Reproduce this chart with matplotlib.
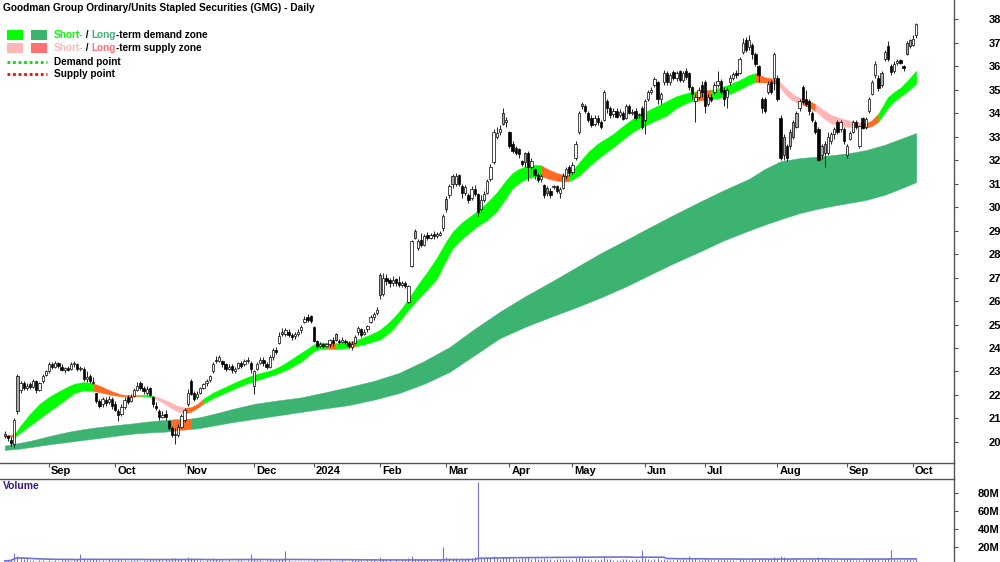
import matplotlib
matplotlib.use("Agg")
import matplotlib.pyplot as plt
import matplotlib.transforms as mtransforms
from matplotlib.lines import Line2D
from matplotlib.patches import Rectangle
import numpy as np
import pandas as pd

FONT = ["Liberation Sans Narrow", "Liberation Sans", "DejaVu Sans"]
plt.rcParams["font.family"] = FONT

# ---- data -------------------------------------------------------------
holidays = ["2023-12-25", "2023-12-26", "2024-01-01", "2024-01-26",
            "2024-03-29", "2024-04-01", "2024-04-25", "2024-06-10"]

opens = [
    20.35, 20.25, 20.1, 19.9, 22.8, 22.2, 22.5, 22.3, 22.45, 22.35,
    22.6, 22.2, 22.6, 22.85, 23.0, 23.3, 23.2, 23.35, 23.2, 23.05,
    23.15, 23.1, 23.3, 23.3, 23.1, 23.1, 22.7, 22.8, 22.5, 22.1,
    21.75, 21.6, 21.8, 21.7, 21.85, 21.6, 21.3, 21.2, 21.5, 21.9,
    21.75, 21.95, 22.2, 22.5, 22.3, 22.1, 22.3, 21.9, 21.55, 21.3,
    21.05, 21.2, 20.9, 20.6, 20.35, 20.3, 20.65, 20.95, 21.6, 22.6,
    22.1, 21.9, 22.1, 22.3, 22.5, 22.65, 23.0, 23.5, 23.45, 23.45,
    23.3, 23.1, 23.25, 23.0, 23.15, 23.35, 23.3, 23.45, 23.35, 22.4,
    23.1, 23.35, 23.5, 23.3, 23.2, 23.6, 23.9, 24.2, 24.7, 24.6,
    24.7, 24.55, 24.5, 24.6, 24.75, 25.1, 25.3, 25.35, 24.9, 24.3,
    24.1, 24.15, 24.1, 24.15, 24.35, 24.6, 24.3, 24.25, 24.3, 24.2,
    24.05, 24.2, 24.7, 24.8, 24.6, 24.8, 25.1, 25.3, 25.5, 27.1,
    26.3, 27.0, 26.9, 26.75, 26.95, 26.8, 26.7, 26.75, 25.95, 27.5,
    29.0, 28.25, 28.6, 28.4, 28.8, 28.7, 28.85, 28.75, 28.8, 29.1,
    30.35, 30.5, 31.3, 31.0, 31.35, 30.9, 30.6, 30.5, 30.4, 30.75,
    30.55, 29.9, 30.3, 30.6, 31.2, 31.9, 33.0, 33.2, 34.0, 33.6,
    33.2, 32.7, 32.5, 32.45, 31.95, 32.3, 32.3, 31.7, 31.6, 31.35,
    31.2, 30.95, 30.8, 30.7, 30.85, 30.9, 30.6, 30.8, 31.3, 31.7,
    31.5, 32.1, 33.2, 34.4, 34.3, 34.0, 33.8, 33.55, 33.8, 33.6,
    33.7, 34.5, 34.2, 33.95, 34.1, 33.9, 34.0, 33.8, 34.3, 34.0,
    34.1, 33.9, 34.2, 33.7, 34.6, 34.9, 35.2, 35.3, 34.6, 35.3,
    35.7, 35.3, 35.75, 35.5, 35.8, 35.4, 35.8, 35.7, 35.1, 34.5,
    34.7, 35.2, 35.3, 34.4, 34.7, 34.9, 35.2, 35.35, 35.0, 34.7,
    35.3, 35.5, 35.7, 35.7, 36.6, 37.1, 36.8, 36.9, 36.5, 36.0,
    34.6, 34.6, 34.9, 35.3, 35.5, 35.5, 33.8, 33.0, 32.6, 33.2,
    33.6, 34.0, 34.2, 35.1, 34.6, 34.5, 34.0, 33.6, 33.3, 32.6,
    32.7, 32.3, 32.8, 33.1, 33.6, 33.3, 33.3, 32.2, 32.9, 33.2,
    33.6, 32.6, 33.8, 33.4, 34.1, 34.8, 35.6, 35.5, 35.7, 36.3,
    36.85, 36.0, 35.8, 36.15, 36.25, 36.0, 37.0, 37.1, 36.9, 37.3,
]
highs = [
    20.45, 20.3, 20.2, 21.0, 22.9, 22.6, 22.6, 22.5, 22.55, 22.7,
    22.65, 22.55, 22.9, 23.05, 23.4, 23.4, 23.45, 23.4, 23.3, 23.2,
    23.25, 23.4, 23.45, 23.35, 23.25, 23.2, 23.0, 22.9, 22.75, 22.1,
    21.85, 21.9, 21.9, 21.95, 21.9, 21.75, 21.4, 21.6, 21.9, 22.0,
    22.05, 22.3, 22.55, 22.6, 22.4, 22.4, 22.35, 21.95, 21.7, 21.4,
    21.3, 21.35, 20.95, 20.7, 20.6, 20.75, 21.2, 21.45, 22.25, 22.7,
    22.15, 22.15, 22.35, 22.5, 22.7, 22.85, 23.4, 23.65, 23.7, 23.5,
    23.35, 23.3, 23.3, 23.2, 23.4, 23.45, 23.55, 23.6, 23.45, 23.05,
    23.4, 23.6, 23.6, 23.4, 23.7, 24.0, 24.05, 24.7, 24.85, 24.85,
    24.8, 24.65, 24.7, 24.8, 25.0, 25.35, 25.45, 25.4, 24.95, 24.35,
    24.25, 24.2, 24.2, 24.4, 24.45, 24.65, 24.4, 24.45, 24.4, 24.3,
    24.3, 24.55, 24.95, 24.85, 24.8, 25.0, 25.4, 25.55, 25.75, 27.2,
    27.2, 27.15, 27.0, 27.05, 27.0, 27.05, 26.85, 26.85, 26.7, 28.6,
    29.05, 28.65, 28.9, 28.85, 28.95, 28.9, 29.0, 28.95, 29.0, 29.7,
    30.45, 31.0, 31.4, 31.45, 31.4, 31.0, 30.95, 30.6, 30.9, 30.95,
    30.6, 30.5, 30.7, 31.2, 31.85, 33.3, 33.4, 33.5, 34.2, 33.85,
    33.25, 32.8, 32.6, 32.5, 32.0, 32.35, 32.4, 32.1, 31.65, 31.45,
    31.4, 31.0, 30.9, 30.8, 30.95, 30.95, 30.85, 31.45, 31.7, 31.8,
    31.9, 32.8, 34.1, 34.45, 34.4, 34.1, 33.9, 33.9, 33.9, 33.7,
    35.0, 34.6, 34.3, 34.2, 34.2, 34.15, 34.1, 34.4, 34.4, 34.15,
    34.2, 34.0, 34.3, 34.6, 35.0, 35.1, 35.55, 35.35, 34.9, 35.85,
    35.8, 35.7, 35.85, 35.8, 35.85, 35.8, 35.9, 35.75, 35.15, 34.8,
    35.1, 35.35, 35.4, 34.8, 34.8, 35.3, 35.8, 35.45, 35.1, 35.1,
    35.6, 35.75, 35.85, 36.4, 37.2, 37.25, 37.3, 37.0, 36.6, 36.05,
    34.7, 34.7, 35.35, 35.4, 36.6, 35.6, 33.9, 33.1, 32.7, 33.3,
    33.7, 34.1, 34.6, 35.2, 35.0, 34.6, 34.1, 33.7, 33.4, 32.7,
    32.8, 33.2, 33.2, 33.4, 33.7, 33.7, 33.4, 32.7, 33.25, 33.7,
    33.7, 33.5, 33.85, 33.85, 34.7, 35.4, 36.2, 35.6, 35.8, 36.7,
    37.05, 36.1, 36.2, 36.3, 36.3, 36.05, 37.05, 37.15, 37.3, 37.85,
]
lows = [
    20.15, 20.05, 19.85, 19.8, 21.2, 22.1, 22.2, 22.2, 22.25, 22.3,
    22.1, 22.15, 22.5, 22.8, 22.95, 23.1, 23.15, 23.15, 23.0, 22.95,
    23.0, 23.05, 23.2, 23.0, 23.0, 22.6, 22.55, 22.5, 22.45, 21.65,
    21.45, 21.5, 21.55, 21.6, 21.4, 21.3, 20.9, 21.1, 21.4, 21.6,
    21.7, 21.9, 22.15, 22.2, 22.05, 22.0, 21.95, 21.5, 21.35, 20.95,
    21.0, 20.95, 20.5, 20.2, 19.9, 20.2, 20.6, 20.85, 21.55, 22.0,
    21.75, 21.85, 22.05, 22.25, 22.4, 22.55, 22.95, 23.35, 23.4, 23.2,
    23.0, 23.05, 22.95, 22.95, 23.1, 23.15, 23.25, 23.35, 22.95, 22.05,
    23.05, 23.3, 23.25, 23.1, 23.15, 23.5, 23.75, 24.15, 24.5, 24.5,
    24.45, 24.35, 24.4, 24.5, 24.65, 25.05, 25.1, 25.05, 24.25, 24.0,
    24.05, 24.0, 24.05, 24.05, 24.1, 24.3, 24.15, 24.2, 24.15, 24.0,
    23.9, 24.15, 24.55, 24.45, 24.55, 24.7, 25.05, 25.2, 25.4, 26.1,
    26.2, 26.7, 26.6, 26.65, 26.65, 26.6, 26.6, 26.55, 25.9, 27.45,
    28.65, 28.15, 28.3, 28.35, 28.6, 28.65, 28.65, 28.7, 28.75, 29.0,
    29.8, 30.4, 30.8, 30.9, 30.9, 30.4, 30.5, 30.15, 30.3, 30.45,
    29.6, 29.85, 30.2, 30.55, 31.1, 31.85, 32.9, 33.05, 33.5, 33.4,
    32.5, 32.3, 32.2, 32.1, 31.75, 31.7, 31.1, 31.6, 31.2, 31.05,
    31.05, 30.4, 30.45, 30.4, 30.75, 30.6, 30.4, 30.75, 31.2, 31.3,
    31.4, 32.0, 33.1, 34.15, 34.0, 33.6, 33.4, 33.45, 33.5, 33.3,
    33.65, 34.0, 33.8, 33.85, 33.8, 33.85, 33.7, 33.75, 33.95, 33.9,
    33.7, 33.8, 33.3, 33.1, 34.5, 34.8, 35.1, 34.4, 34.4, 35.2,
    35.2, 35.2, 35.4, 35.35, 35.3, 35.3, 35.45, 35.0, 34.6, 33.6,
    34.6, 34.7, 34.0, 34.3, 34.45, 34.8, 35.1, 34.8, 34.3, 34.2,
    35.2, 35.4, 35.5, 35.65, 36.5, 36.6, 36.7, 36.3, 36.0, 35.3,
    34.0, 34.0, 34.8, 34.8, 35.0, 34.5, 32.0, 32.0, 31.95, 32.45,
    32.9, 33.35, 34.1, 34.4, 34.3, 33.9, 33.6, 33.1, 31.95, 32.05,
    31.7, 32.2, 32.7, 32.9, 33.1, 33.2, 32.7, 32.1, 32.85, 33.15,
    33.3, 32.5, 33.3, 33.3, 34.0, 34.75, 35.5, 34.95, 35.1, 36.2,
    36.2, 35.6, 35.7, 36.05, 36.1, 35.8, 36.45, 36.75, 36.85, 37.2,
]
closes = [
    20.25, 20.15, 19.95, 20.95, 21.3, 22.5, 22.3, 22.4, 22.35, 22.6,
    22.2, 22.5, 22.8, 23.0, 23.3, 23.2, 23.35, 23.25, 23.05, 23.15,
    23.05, 23.3, 23.35, 23.1, 23.15, 22.7, 22.75, 22.6, 22.55, 21.75,
    21.55, 21.85, 21.65, 21.85, 21.55, 21.35, 21.15, 21.5, 21.8, 21.7,
    21.9, 22.2, 22.4, 22.3, 22.15, 22.25, 22.0, 21.6, 21.45, 21.05,
    21.15, 21.05, 20.6, 20.3, 20.3, 20.65, 21.1, 21.35, 22.1, 22.05,
    21.85, 22.05, 22.3, 22.45, 22.6, 22.8, 23.3, 23.45, 23.6, 23.3,
    23.1, 23.2, 23.05, 23.1, 23.35, 23.25, 23.45, 23.5, 23.1, 23.0,
    23.3, 23.5, 23.35, 23.2, 23.6, 23.9, 23.85, 24.5, 24.6, 24.75,
    24.55, 24.45, 24.6, 24.7, 24.9, 25.25, 25.2, 25.15, 24.3, 24.1,
    24.15, 24.1, 24.15, 24.35, 24.2, 24.35, 24.25, 24.35, 24.25, 24.1,
    24.15, 24.45, 24.85, 24.55, 24.7, 24.95, 25.3, 25.45, 25.6, 26.25,
    27.0, 26.85, 26.75, 26.9, 26.75, 26.7, 26.75, 26.65, 26.65, 28.55,
    28.7, 28.55, 28.4, 28.75, 28.7, 28.8, 28.75, 28.85, 28.9, 29.6,
    29.9, 30.9, 31.0, 31.3, 31.0, 30.6, 30.85, 30.3, 30.75, 30.55,
    29.8, 30.3, 30.55, 31.1, 31.7, 33.2, 33.15, 33.3, 33.55, 33.7,
    32.6, 32.4, 32.3, 32.25, 31.85, 31.9, 31.7, 31.95, 31.35, 31.15,
    31.3, 30.5, 30.6, 30.5, 30.9, 30.7, 30.75, 31.3, 31.6, 31.45,
    31.8, 32.7, 34.0, 34.3, 34.1, 33.7, 33.5, 33.8, 33.6, 33.4,
    34.9, 34.2, 33.9, 34.1, 33.85, 34.05, 33.75, 34.3, 34.0, 34.05,
    33.8, 33.95, 33.4, 34.5, 34.9, 35.0, 35.45, 34.6, 34.8, 35.7,
    35.3, 35.6, 35.5, 35.7, 35.4, 35.7, 35.55, 35.1, 34.8, 34.7,
    35.0, 34.9, 34.3, 34.7, 34.55, 35.2, 35.35, 34.9, 34.6, 35.0,
    35.5, 35.65, 35.6, 36.3, 37.0, 36.7, 37.1, 36.5, 36.1, 35.6,
    34.2, 34.1, 35.25, 34.9, 36.5, 34.6, 32.1, 32.2, 32.1, 32.6,
    33.0, 33.4, 34.5, 34.45, 34.4, 34.1, 33.7, 33.2, 32.0, 32.2,
    32.3, 33.0, 33.1, 33.3, 33.2, 33.6, 32.8, 32.6, 33.15, 33.6,
    33.4, 33.45, 33.35, 33.75, 34.6, 35.3, 36.1, 35.05, 35.2, 36.6,
    36.3, 35.75, 36.1, 36.2, 36.15, 35.9, 36.5, 36.85, 37.15, 37.8,
]
volume_m = [
    4.5, 5.0, 5.8, 13.0, 10.5, 8.0, 6.5, 7.2, 5.5, 5.0,
    4.8, 5.5, 6.0, 4.6, 5.2, 4.9, 5.6, 4.4, 5.1, 6.2,
    5.3, 4.7, 5.0, 6.1, 12.0, 6.8, 5.5, 5.9, 7.0, 6.4,
    5.8, 5.1, 4.9, 6.6, 5.4, 6.0, 7.1, 5.7, 5.0, 4.8,
    5.3, 5.9, 5.1, 4.6, 5.5, 5.0, 6.3, 6.9, 5.8, 6.4,
    5.2, 5.6, 6.8, 7.5, 8.2, 6.6, 7.0, 6.2, 9.0, 7.4,
    6.1, 5.5, 5.2, 4.9, 5.6, 5.8, 7.3, 6.5, 5.4, 5.0,
    4.7, 5.3, 4.9, 4.5, 5.1, 5.6, 4.8, 6.0, 12.5, 7.2,
    5.5, 5.0, 4.8, 5.2, 6.1, 6.7, 5.4, 7.0, 6.3, 15.5,
    5.8, 4.9, 4.4, 4.1, 3.9, 4.6, 4.2, 4.0, 5.6, 5.1,
    4.8, 4.5, 4.9, 5.2, 4.6, 4.4, 4.7, 5.0, 4.3, 4.8,
    5.1, 5.4, 5.9, 5.0, 4.7, 5.3, 5.8, 5.2, 4.9, 8.5,
    6.2, 5.4, 5.0, 4.8, 5.1, 4.7, 5.3, 5.6, 7.8, 9.5,
    7.0, 6.1, 5.5, 5.2, 5.0, 5.4, 4.9, 5.7, 6.0, 20.0,
    8.5, 7.6, 8.0, 7.2, 6.8, 7.5, 6.9, 8.1, 7.3, 8.6,
    92.0, 9.0, 7.8, 8.2, 7.9, 10.5, 7.4, 6.9, 9.2, 8.0,
    8.8, 7.6, 7.1, 6.8, 7.3, 7.7, 8.4, 6.9, 7.2, 6.6,
    6.3, 7.8, 7.0, 6.5, 5.9, 6.2, 6.7, 7.1, 6.4, 6.8,
    6.0, 8.2, 9.1, 7.5, 6.6, 6.2, 5.8, 6.1, 5.7, 6.4,
    8.3, 6.9, 6.2, 5.9, 6.0, 5.6, 6.3, 7.0, 5.8, 5.5,
    6.1, 5.7, 17.0, 7.5, 6.4, 6.0, 6.8, 7.2, 5.9, 6.6,
    6.0, 5.8, 5.5, 6.2, 5.7, 6.4, 5.9, 10.0, 6.5, 7.3,
    6.0, 5.6, 7.4, 6.3, 5.2, 5.8, 6.1, 5.4, 6.2, 5.9,
    5.3, 5.0, 4.8, 6.3, 7.1, 6.0, 5.5, 6.4, 6.8, 7.2,
    8.0, 7.4, 6.6, 6.1, 8.3, 7.9, 10.2, 8.5, 7.6, 7.0,
    6.4, 6.8, 6.0, 6.5, 5.7, 5.9, 6.2, 6.9, 9.3, 7.4,
    8.1, 6.6, 5.8, 5.5, 5.2, 5.6, 6.3, 7.0, 6.1, 5.7,
    5.4, 6.0, 5.5, 6.2, 7.1, 7.8, 6.9, 6.3, 6.0, 7.4,
    8.0, 16.5, 6.8, 5.9, 5.6, 5.4, 6.2, 6.5, 5.8, 7.0,
]

# short-term zone edges, read at selected bars (bar index, upper, lower)
short_idx = [0, 3, 5, 8, 11, 14, 17, 20, 22, 25, 28, 30, 32, 34, 37, 40, 43, 45,
             47, 49, 51, 53, 55, 57, 59, 61, 63, 66, 70, 74, 77, 80, 84, 87, 90,
             94, 98, 100, 102, 105, 108, 109, 111, 113, 116, 119, 122, 124, 126,
             128, 131, 134, 137, 140, 142, 145, 147, 150, 153, 156, 159, 161, 163,
             165, 168, 170, 172, 175, 177, 179, 182, 185, 188, 191, 193, 196, 199,
             202, 205, 208, 210, 213, 217, 219, 222, 224, 226, 229, 233, 236, 238,
             241, 243, 245, 247, 249, 251, 253, 255, 257, 260, 262, 265, 268, 270,
             272, 273, 275, 277, 280, 282, 284, 286, 289]
short_hi = [20.30, 20.32, 20.70, 21.20, 21.62, 21.92, 22.15, 22.36, 22.48, 22.55,
            22.50, 22.40, 22.28, 22.16, 22.02, 21.99, 22.00, 22.00, 21.97, 21.88,
            21.78, 21.65, 21.53, 21.46, 21.48, 21.62, 21.84, 22.10, 22.35, 22.60,
            22.77, 22.90, 23.04, 23.20, 23.45, 23.80, 24.15, 24.24, 24.22, 24.20,
            24.24, 24.26, 24.32, 24.42, 24.58, 24.78, 25.12, 25.40, 25.72, 26.10,
            26.70, 27.25, 27.85, 28.55, 28.95, 29.35, 29.55, 29.85, 30.20, 30.62,
            31.15, 31.45, 31.62, 31.72, 31.80, 31.78, 31.62, 31.45, 31.38, 31.38,
            31.88, 32.35, 32.70, 32.95, 33.12, 33.45, 33.75, 33.98, 34.18, 34.38,
            34.52, 34.72, 34.88, 34.92, 34.96, 35.00, 35.05, 35.18, 35.40, 35.62,
            35.70, 35.52, 35.48, 35.42, 35.15, 34.90, 34.72, 34.60, 34.52, 34.38,
            34.10, 33.92, 33.78, 33.68, 33.62, 33.58, 33.55, 33.70, 33.98, 34.68,
            34.90, 35.08, 35.35, 35.80]
short_lo = [20.22, 20.20, 20.40, 20.70, 21.00, 21.30, 21.58, 21.88, 22.08, 22.20,
            22.17, 22.12, 22.06, 22.00, 21.94, 21.94, 21.95, 21.94, 21.90, 21.75,
            21.60, 21.42, 21.28, 21.22, 21.28, 21.44, 21.64, 21.87, 22.10, 22.34,
            22.50, 22.63, 22.80, 22.94, 23.12, 23.42, 23.86, 23.97, 23.97, 23.95,
            23.99, 24.01, 24.06, 24.13, 24.24, 24.36, 24.66, 24.95, 25.28, 25.62,
            26.08, 26.50, 26.95, 27.75, 28.25, 28.65, 28.88, 29.20, 29.45, 29.82,
            30.40, 30.80, 31.02, 31.18, 31.30, 31.32, 31.22, 31.12, 31.08, 31.10,
            31.32, 31.70, 32.05, 32.35, 32.55, 32.88, 33.18, 33.42, 33.60, 33.78,
            33.90, 34.22, 34.48, 34.52, 34.56, 34.60, 34.62, 34.76, 35.00, 35.22,
            35.32, 35.30, 35.28, 35.22, 34.88, 34.60, 34.45, 34.35, 34.25, 34.08,
            33.75, 33.56, 33.45, 33.40, 33.40, 33.38, 33.36, 33.46, 33.62, 34.22,
            34.50, 34.70, 34.90, 35.25]
# (first bar, last bar, state) of the short-term zone
short_states = [(0, 3, "supply_x"), (3, 28, "demand"), (28, 43, "supply_x"),
                (43, 47, "demand"), (47, 57, "supply"), (57, 63, "supply_x"),
                (63, 102, "demand"), (102, 105, "supply_x"), (105, 109, "demand"),
                (109, 111, "supply_x"), (111, 170, "demand"), (170, 179, "supply_x"),
                (179, 219, "demand"), (219, 224, "supply_x"), (224, 238, "demand"),
                (238, 245, "supply_x"), (245, 253, "supply"), (253, 257, "supply_x"),
                (257, 272, "supply"), (272, 277, "supply_x"), (277, 289, "demand")]

long_idx = [0, 5, 9, 14, 20, 25, 30, 36, 41, 46, 51, 53, 56, 59, 62, 67, 72, 79,
            86, 94, 101, 109, 117, 125, 133, 141, 149, 157, 165, 173, 181, 189,
            197, 204, 212, 220, 228, 236, 241, 246, 252, 257, 262, 268, 273, 279,
            284, 289]
long_hi = [19.85, 19.97, 20.08, 20.25, 20.43, 20.55, 20.64, 20.73, 20.80, 20.88,
           20.94, 20.96, 20.98, 21.00, 21.06, 21.22, 21.40, 21.62, 21.76, 21.90,
           22.10, 22.34, 22.60, 22.94, 23.45, 24.04, 24.82, 25.55, 26.20, 26.80,
           27.42, 28.04, 28.60, 29.10, 29.66, 30.20, 30.72, 31.20, 31.62, 31.95,
           32.08, 32.14, 32.20, 32.30, 32.42, 32.65, 32.90, 33.15]
long_lo = [19.66, 19.72, 19.80, 19.90, 20.00, 20.09, 20.17, 20.28, 20.36, 20.41,
           20.44, 20.48, 20.52, 20.55, 20.60, 20.72, 20.84, 20.98, 21.12, 21.28,
           21.42, 21.57, 21.80, 22.08, 22.48, 22.98, 23.70, 24.42, 24.90, 25.32,
           25.72, 26.15, 26.62, 27.08, 27.60, 28.08, 28.58, 29.00, 29.25, 29.48,
           29.74, 29.90, 30.04, 30.18, 30.30, 30.52, 30.78, 31.06]
long_states = [(0, 53, "demand"), (53, 59, "supply_x"), (59, 289, "demand")]

price_ticks = list(range(20, 39))
volume_ticks = [20, 40, 60, 80]
volume_avg_window = 60

# ---- style ------------------------------------------------------------
W, H = 1000, 562
BRIGHT = "#00ff00"
SEA = "#3cb371"
PINK = "#ffb6b6"
SALMON = "#ff7070"
ORANGE = "#ff6a22"
GRAYC = "#a8a8a8"
AXC = "#555555"
VOLC = "#7272cc"

short_colors = {"demand": BRIGHT, "supply": PINK, "supply_x": ORANGE}
long_colors = {"demand": SEA, "supply": SALMON, "supply_x": ORANGE}

fig = plt.figure(figsize=(W / 100, H / 100), dpi=100)


def px_axes(x0, y0, x1, y1):
    return fig.add_axes([x0 / W, 1 - y1 / H, (x1 - x0) / W, (y1 - y0) / H])


ax = px_axes(0, 0, 954, 463)
axv = px_axes(0, 479, 954, 562)

dates = pd.bdate_range("2023-08-14", "2024-10-02")
dates = dates[~dates.isin(pd.to_datetime(holidays))]
n = len(closes)
dates = dates[:n]
x = np.arange(n)

o = np.array(opens)
h = np.array(highs)
lo_ = np.array(lows)
c = np.array(closes)


def draw_zone(idx, hi, lo, states, colors):
    idx = np.array(idx)
    hi = np.array(hi)
    lo = np.array(lo)
    for a, b, st in states:
        m = (idx >= a) & (idx <= b)
        ax.fill_between(idx[m], lo[m], hi[m], color=colors[st], lw=0.3,
                        ec=colors[st], zorder=1)


draw_zone(long_idx, long_hi, long_lo, long_states, long_colors)
draw_zone(short_idx, short_hi, short_lo, short_states, short_colors)

# candles: hollow = up day, gray = down from open but above prior close, black = down
prev = np.r_[c[0], c[:-1]]
fills = []
for i in range(n):
    if c[i] >= o[i]:
        fills.append("white")
    elif c[i] >= prev[i]:
        fills.append(GRAYC)
    else:
        fills.append("black")
ax.vlines(x, lo_, h, color="black", lw=0.6, zorder=2)
body = np.maximum(np.abs(c - o), 0.03)
ax.bar(x, body, bottom=np.minimum(o, c), width=0.72, color=fills,
       edgecolor="black", linewidth=0.5, zorder=3)

ax.set_xlim(-1.52, 300.98)
ax.set_ylim(19.106, 38.81)
ax.yaxis.tick_right()
ax.set_yticks(price_ticks)
ax.set_yticklabels([str(t) for t in price_ticks], fontsize=8, fontweight="bold")
ax.tick_params(axis="y", direction="out", length=3, color=AXC, pad=22)
for s in ["left", "top"]:
    ax.spines[s].set_visible(False)
for s in ["right", "bottom"]:
    ax.spines[s].set_color(AXC)
    ax.spines[s].set_linewidth(1)

# month ticks
month_pos, month_lab = [], []
per = dates.to_period("M")
for i in range(1, n):
    if per[i] != per[i - 1]:
        month_pos.append(i)
        d = dates[i]
        month_lab.append(str(d.year) if d.month == 1 else d.strftime("%b"))
ax.set_xticks(month_pos)
ax.set_xticklabels([])
ax.tick_params(axis="x", direction="out", length=3, color=AXC)
tr = mtransforms.blended_transform_factory(ax.transData, fig.transFigure)
for p, lab in zip(month_pos, month_lab):
    ax.text(p + 0.6, 1 - 471 / H, lab, transform=tr, ha="left", va="center",
            fontsize=8, fontweight="bold", clip_on=False)

# volume
vol = pd.Series(volume_m)
axv.vlines(x, 0, vol, color=VOLC, lw=0.8)
axv.plot(x, vol.rolling(volume_avg_window, min_periods=1).mean(), color=VOLC, lw=1.2)
axv.set_xlim(ax.get_xlim())
axv.set_ylim(3.3, 95.5)
axv.yaxis.tick_right()
axv.set_yticks(volume_ticks)
axv.set_yticklabels([f"{t}M" for t in volume_ticks], fontsize=8, fontweight="bold")
axv.tick_params(axis="y", direction="out", length=3, color=AXC, pad=14)
axv.set_xticks([])
for s in ["left", "bottom"]:
    axv.spines[s].set_visible(False)
for s in ["right", "top"]:
    axv.spines[s].set_color(AXC)
    axv.spines[s].set_linewidth(1)
axv.text(3 / 954, 1 - 7 / 83, "Volume", transform=axv.transAxes, ha="left",
         va="center", fontsize=7.5, fontweight="bold", color="#3a1a8a")

# vertical line through the date strip
fig.add_artist(Line2D([954 / W, 954 / W], [1 - 479 / H, 1 - 463 / H], color=AXC, lw=1))

# title and legend
renderer = fig.canvas.get_renderer()


def row_text(x_px, y_px, parts, size=7.2):
    xx = x_px
    for s, col in parts:
        t = fig.text(xx / W, 1 - y_px / H, s, color=col, fontsize=size,
                     fontweight="bold", ha="left", va="center", family="Liberation Sans")
        xx += t.get_window_extent(renderer=renderer).width


row_text(3, 8, [("Goodman Group Ordinary/Units Stapled Securities (GMG) - Daily", "black")], 7.3)
for (x0, y0, col) in [(7, 30, BRIGHT), (31, 30, SEA), (7, 43, PINK), (31, 43, SALMON)]:
    fig.add_artist(Rectangle((x0 / W, 1 - (y0 + 10) / H), 16 / W, 10 / H,
                             transform=fig.transFigure, color=col, lw=0))
row_text(54, 35, [("Short-", BRIGHT), (" / ", "black"), ("Long", SEA),
                  ("-term demand zone", "black")])
row_text(54, 48, [("Short-", PINK), (" / ", "black"), ("Long", SALMON),
                  ("-term supply zone", "black")])
fig.add_artist(Line2D([7 / W, 47 / W], [1 - 62 / H] * 2, color="#00dd00", lw=2,
                      ls=(0, (1, 1))))
fig.add_artist(Line2D([7 / W, 47 / W], [1 - 74 / H] * 2, color="#ff0000", lw=2,
                      ls=(0, (1, 1))))
row_text(54, 62, [("Demand point", "black")])
row_text(54, 74, [("Supply point", "black")])

fig.savefig("out.png", dpi=100)
